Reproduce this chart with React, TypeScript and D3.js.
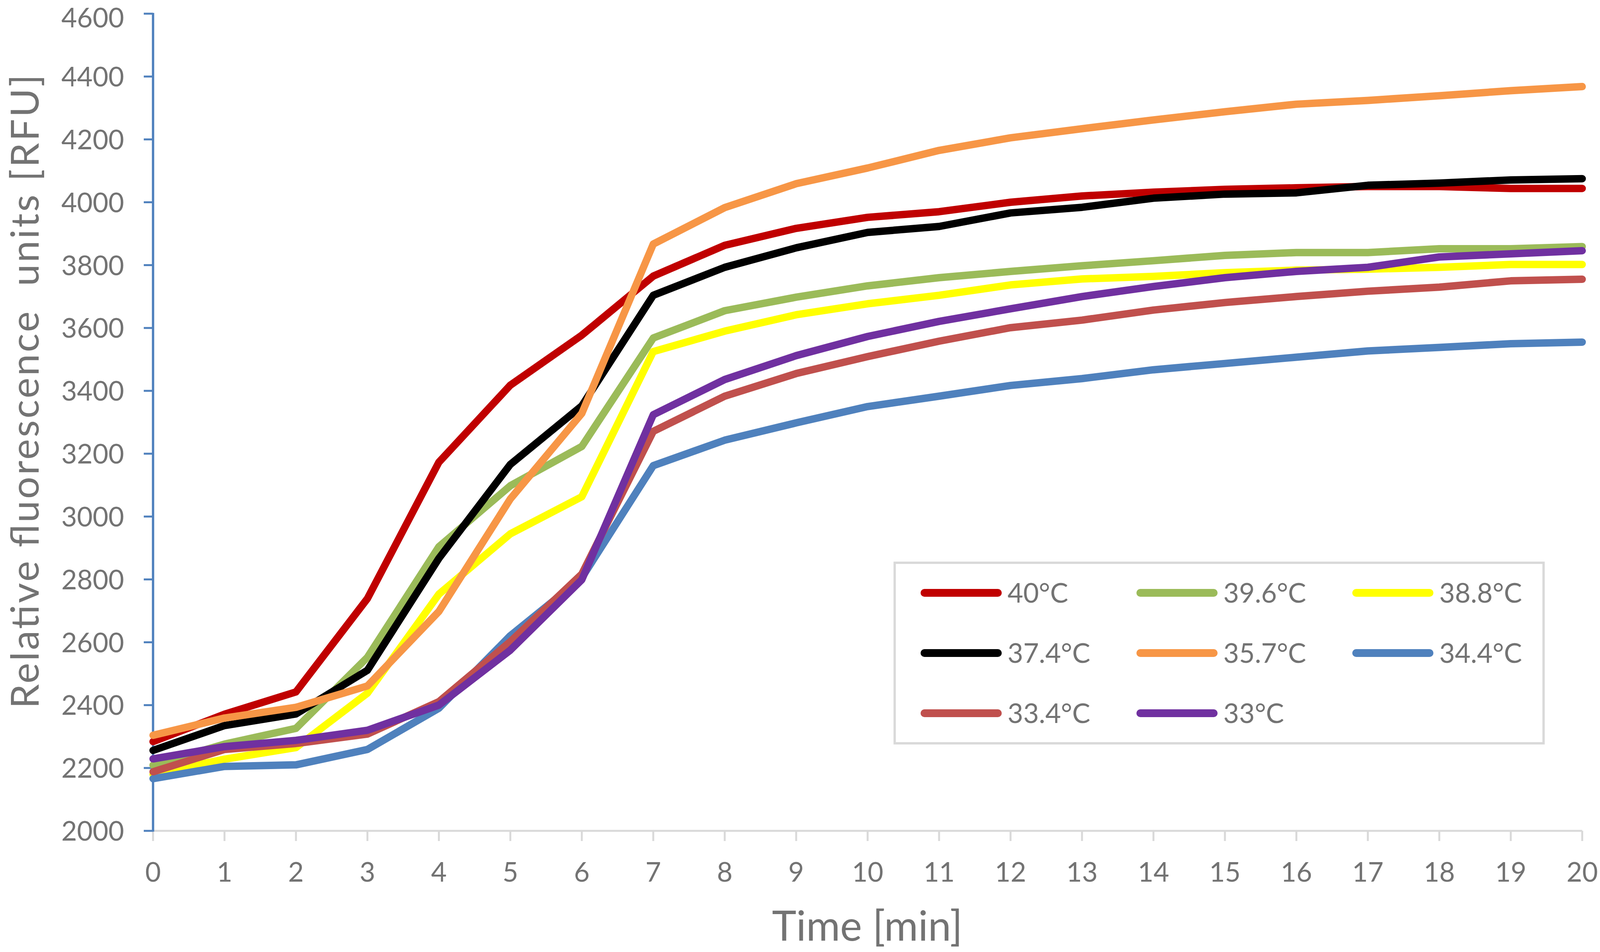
import React from "react";
import * as d3 from "d3";

const times = d3.range(0, 21);
const yTicks = [2000, 2200, 2400, 2600, 2800, 3000, 3200, 3400, 3600, 3800, 4000, 4200, 4400, 4600];

const s40 = [2284, 2371, 2442, 2739, 3173, 3418, 3577, 3765, 3863, 3917, 3952, 3970, 4000, 4020, 4032, 4041, 4046, 4050, 4050, 4044, 4044];
const s396 = [2209, 2276, 2326, 2552, 2904, 3098, 3223, 3568, 3655, 3698, 3734, 3760, 3780, 3798, 3814, 3831, 3840, 3840, 3852, 3852, 3859];
const s388 = [2180, 2228, 2265, 2438, 2753, 2945, 3063, 3525, 3590, 3642, 3677, 3704, 3737, 3756, 3764, 3776, 3784, 3787, 3793, 3802, 3802];
const s374 = [2256, 2335, 2372, 2511, 2867, 3166, 3352, 3704, 3793, 3855, 3904, 3923, 3966, 3984, 4013, 4026, 4030, 4054, 4061, 4071, 4075];
const s357 = [2304, 2359, 2393, 2461, 2698, 3056, 3328, 3867, 3983, 4059, 4109, 4165, 4205, 4234, 4262, 4288, 4312, 4324, 4339, 4355, 4368];
const s344 = [2166, 2205, 2210, 2259, 2390, 2621, 2805, 3162, 3243, 3298, 3350, 3383, 3417, 3439, 3467, 3487, 3507, 3527, 3538, 3550, 3555];
const s334 = [2188, 2259, 2278, 2308, 2411, 2602, 2817, 3271, 3383, 3455, 3509, 3558, 3601, 3625, 3657, 3681, 3700, 3717, 3730, 3750, 3755];
const s33 = [2229, 2268, 2288, 2320, 2400, 2575, 2799, 3324, 3436, 3512, 3573, 3621, 3661, 3700, 3732, 3760, 3780, 3793, 3826, 3836, 3846];

const seriesNames = ["40°C", "39.6°C", "38.8°C", "37.4°C", "35.7°C", "34.4°C", "33.4°C", "33°C"];
const seriesValues = [s40, s396, s388, s374, s357, s344, s334, s33];
const seriesColors = ["#C00000", "#9BBB59", "#FFFF00", "#000000", "#F79646", "#4F81BD", "#C0504D", "#7030A0"];

const W = 4140;
const H = 2436;
const FONT = "Lato, 'Open Sans', sans-serif";
const TEXT = "#737373";

export default function App() {
  const x = d3.scaleLinear().domain([0, 20]).range([396, 4094]);
  const y = d3.scaleLinear().domain([2000, 4600]).range([2126, 35]);
  const line = d3
    .line<number>()
    .x((_, i) => x(times[i]))
    .y((d) => y(d));

  const legX0 = 2392;
  const legColW = 558.5;
  const legY0 = 1517;
  const legRowH = 154;

  return (
    <svg
      viewBox={`0 0 ${W} ${H}`}
      preserveAspectRatio="none"
      style={{
        position: "fixed",
        left: 0,
        top: 0,
        width: "100vw",
        height: "100vh",
        background: "#fff",
        display: "block",
      }}
    >
      <rect x={0} y={0} width={W} height={H} fill="#fff" />
      {/* x axis */}
      <line x1={x(0)} x2={x(20)} y1={y(2000)} y2={y(2000)} stroke="#D9D9D9" strokeWidth={5} />
      {times.map((t) => (
        <g key={`xt${t}`}>
          <line x1={x(t)} x2={x(t)} y1={y(2000)} y2={y(2000) + 26} stroke="#D9D9D9" strokeWidth={5} />
          <text
            x={x(t)}
            y={2256}
            fontFamily={FONT}
            fontSize={70}
            fill={TEXT}
            textAnchor="middle"
          >
            {t}
          </text>
        </g>
      ))}
      {/* y axis */}
      <line x1={x(0)} x2={x(0)} y1={y(4600) - 2} y2={y(2000) + 2} stroke="#4F81BD" strokeWidth={6} />
      {yTicks.map((v) => (
        <g key={`yt${v}`}>
          <line x1={x(0) - 24} x2={x(0)} y1={y(v)} y2={y(v)} stroke="#4F81BD" strokeWidth={5} />
          <text
            x={321}
            y={Math.max(y(v), 45)}
            dy="0.36em"
            fontFamily={FONT}
            fontSize={70}
            fill={TEXT}
            textAnchor="end"
          >
            {v}
          </text>
        </g>
      ))}
      {/* axis titles */}
      <text
        x={2244}
        y={2407}
        fontFamily={FONT}
        fontSize={107}
        fill={TEXT}
        textAnchor="middle"
      >
        Time [min]
      </text>
      <text
        transform={`translate(100, 1002) rotate(-90)`}
        fontFamily={FONT}
        fontSize={100}
        fill={TEXT}
        textAnchor="middle"
        textLength={1622}
        lengthAdjust="spacing"
        style={{ whiteSpace: "pre" }}
      >
        {"Relative fluorescence  units [RFU]"}
      </text>
      {/* series */}
      {seriesValues.map((vals, i) => (
        <path
          key={`s${i}`}
          d={line(vals) || ""}
          fill="none"
          stroke={seriesColors[i]}
          strokeWidth={19}
          strokeLinejoin="round"
          strokeLinecap="round"
        />
      ))}
      {/* legend */}
      <rect x={2315} y={1440} width={1679} height={462} fill="#fff" stroke="#D9D9D9" strokeWidth={6} />
      {seriesNames.map((name, i) => {
        const col = i % 3;
        const row = Math.floor(i / 3);
        const lx = legX0 + col * legColW;
        const ly = legY0 + row * legRowH;
        return (
          <g key={`lg${i}`}>
            <line
              x1={lx}
              x2={lx + 190}
              y1={ly}
              y2={ly}
              stroke={seriesColors[i]}
              strokeWidth={20}
              strokeLinecap="round"
            />
            <text
              x={lx + 215}
              y={ly}
              dy="0.36em"
              fontFamily={FONT}
              fontSize={70}
              fill={TEXT}
            >
              {name}
            </text>
          </g>
        );
      })}
    </svg>
  );
}
